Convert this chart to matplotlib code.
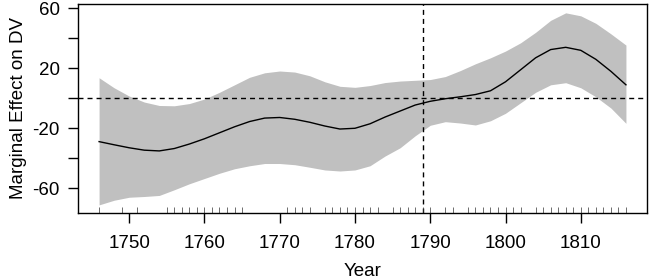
import matplotlib
matplotlib.use("Agg")
import matplotlib.pyplot as plt
import matplotlib.transforms as mtransforms

plt.rcParams["font.family"] = ["Liberation Sans", "DejaVu Sans"]

# estimated marginal effect with confidence band, every 2 years
years = list(range(1746, 1817, 2))
effect = [-28.9, -31, -33, -34.6, -35.1, -33.5, -30.5, -27, -23, -19,
          -15.5, -13.2, -12.8, -14, -16, -18.5, -20.5, -20, -17, -12.5,
          -8.5, -4.5, -2, -0.3, 1, 2.5, 5, 11, 19, 27, 32.5, 34, 32, 26, 18, 9]
upper = [13.7, 7, 1.5, -2.5, -4.8, -5, -3.5, -0.5, 4, 9,
         14, 17, 18.2, 17.5, 15, 11, 8, 7.3, 8.5, 10.5,
         11.5, 12, 12.5, 14.5, 18.5, 23, 27, 31.5, 37, 44, 52, 57, 55, 50, 43, 35.5]
lower = [-71.1, -68, -66, -65.5, -64.8, -61, -57, -53.5, -50, -47,
         -45, -43.5, -43.5, -44.3, -46, -47.8, -48.5, -47.8, -45, -38.5,
         -33, -25, -18, -15.6, -16.5, -17.8, -15, -10, -3, 4, 9, 10.4, 7, 1, -6.5, -16.7]

# years with observations (rug)
rug_years = ([1746, 1749, 1751] + list(range(1755, 1766)) + list(range(1771, 1775))
             + list(range(1776, 1784)) + list(range(1785, 1791)) + [1792, 1793]
             + list(range(1795, 1803)) + list(range(1804, 1817)))

break_year = 1789
x_ticks = [1750, 1760, 1770, 1780, 1790, 1800, 1810]
y_ticks = [-60, -40, -20, 0, 20, 40, 60]
y_labels = ["-60", "", "-20", "", "20", "", "60"]

fig = plt.figure(figsize=(6.5, 2.79), dpi=100)
ax = fig.add_axes([0.12, 0.2366, 0.8754, 0.7491])

ax.fill_between(years, lower, upper, color="#c0c0c0", linewidth=0)
ax.plot(years, effect, color="black", lw=1.0)
ax.axhline(0, color="black", lw=1, dashes=(3.6, 2.9))
ax.axvline(break_year, color="black", lw=1, dashes=(3.6, 2.9))

trans = mtransforms.blended_transform_factory(ax.transData, ax.transAxes)
ax.vlines(rug_years, 0, 0.03, transform=trans, color="#333333", lw=0.5)

ax.set_xlim(1743.2, 1818.8)
ax.set_ylim(-76.5, 62.9)
ax.set_xticks(x_ticks)
ax.set_yticks(y_ticks)
ax.set_yticklabels(y_labels)
ax.tick_params(axis="both", direction="out", length=7, width=1, labelsize=13.5)
ax.tick_params(axis="x", pad=9)
ax.tick_params(axis="y", pad=6)

for sp in ax.spines.values():
    sp.set_linewidth(1)

ax.set_xlabel("Year", fontsize=13.5, labelpad=8)
ax.set_ylabel("Marginal Effect on DV", fontsize=13.5, labelpad=4)

fig.savefig("out.png", dpi=100)
